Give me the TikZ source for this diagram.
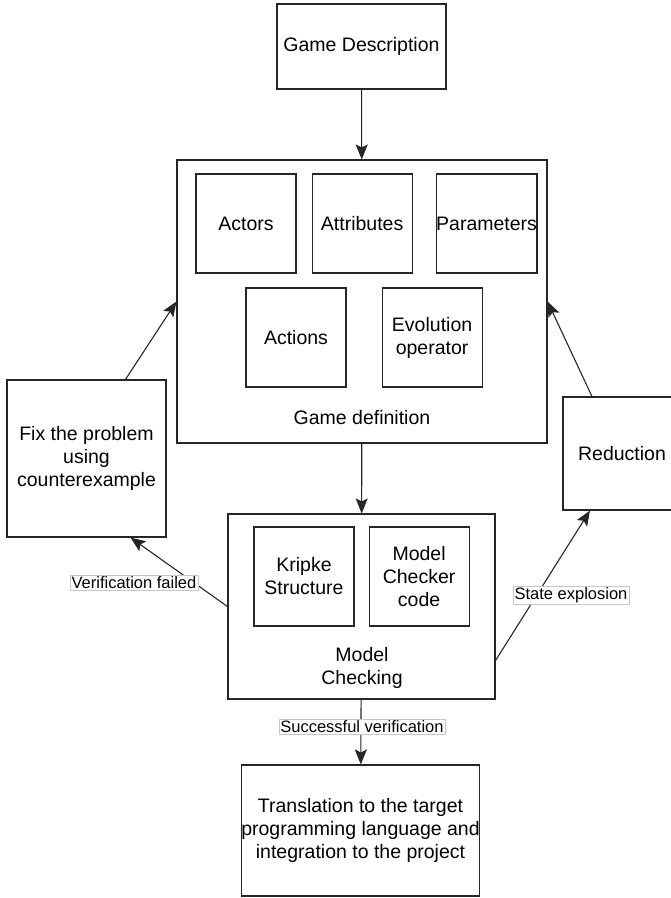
\documentclass[tikz,border=0pt]{standalone}
\usepackage{fontspec}
\setmainfont{Liberation Sans}
\usetikzlibrary{arrows.meta,positioning}

\begin{document}
\begin{tikzpicture}[
            x = 1pt, y = -1pt, % one unit per pixel, y downwards
            line width = 1.1pt,
            draw = black!85,
            font = \fontsize{19.5}{23}\selectfont
        ]

        \tikzstyle{block}=[
            draw = black!85,
            fill = white,
            align = center,
            inner sep = 0pt
        ]
        \tikzstyle{part}=[
            block,
            minimum width = 100pt,
            minimum height = 99pt
        ]
        \tikzstyle{flow}=[
            -{Stealth[length=15pt,width=12pt,inset=3pt]}
        ]
        \tikzstyle{edgelabel}=[
            draw = black!22,
            fill = white,
            line width = 0.6pt,
            inner sep = 1.5pt,
            font = \fontsize{16.5}{19}\selectfont
        ]

        \useasboundingbox (0,0) rectangle (671,898);

        \node[block, minimum width=169pt, minimum height=85pt] (desc) at (361.5,46.5) {Game Description};

        \node[block, minimum width=370pt, minimum height=283pt] (gd) at (362,301.5) {};
        \node[part] (actors) at (246,223.5) {Actors};
        \node[part] (attrs) [right=15pt of actors] {Attributes};
        \node[part] (params) [right=23pt of attrs] {Parameters};
        \node[part] (actions) at (296,337.5) {Actions};
        \node[part] (evol) [right=35pt of actions] {Evolution\\operator};
        \node[align=center] (gdlabel) at (362,418) {Game definition};

        \node[block, minimum width=159pt, minimum height=157pt] (fix) at (86.5,458.5) {Fix the problem\\using\\counterexample};
        \node[block, minimum width=118pt, minimum height=113pt] (red) at (622,453.5) {Reduction};

        \node[block, minimum width=267pt, minimum height=185pt] (mc) at (361.5,606.5) {};
        \node[part] (kripke) at (304,576.5) {Kripke\\Structure};
        \node[part] (checker) [right=14pt of kripke] {Model\\Checker\\code};
        \node[align=center] (mclabel) at (362,668) {Model\\Checking};

        \node[block, minimum width=221pt, minimum height=131pt] (trans) at (360.5,830.5) {Translation to the target\\programming language and\\integration to the project};

        \draw[flow] (desc) -- (gd);
        \draw[flow] (gd) -- (mc);
        \draw[flow] (mc) -- (trans);

        \draw[flow] (mc.west) -- ([xshift=44pt]fix.south);
        \draw[flow] ([xshift=39pt]fix.north) -- (gd.west);

        \draw[flow] ([yshift=-54pt]mc.east) -- ([xshift=-32pt]red.south);
        \draw[flow] ([xshift=-30pt]red.north) -- (gd.east);

        \node[edgelabel] (failed) at (134,583) {Verification failed};
        \node[edgelabel] (explosion) at (571,595.5) {State explosion};
        \node[edgelabel] (success) at (362,727) {Successful verification};

    \end{tikzpicture}
\end{document}
